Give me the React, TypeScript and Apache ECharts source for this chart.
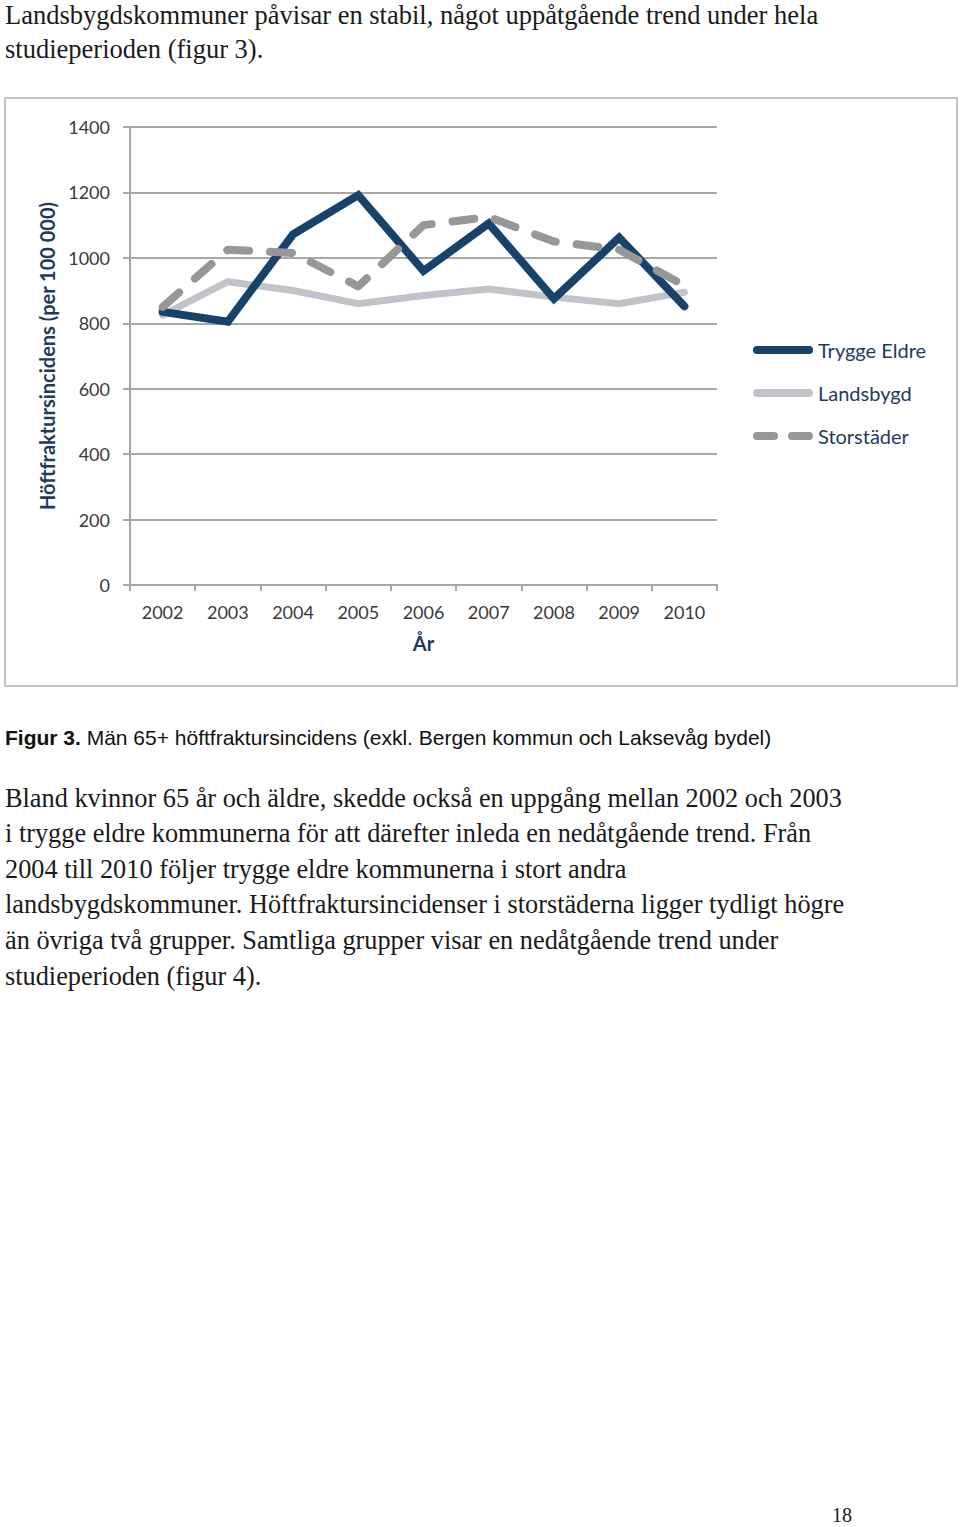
import React, { useEffect, useRef } from "react";
import * as echarts from "echarts";

const years = ["2002", "2003", "2004", "2005", "2006", "2007", "2008", "2009", "2010"];
const tryggeEldre = [835, 805, 1072, 1192, 960, 1105, 875, 1062, 852];
const landsbygd = [825, 927, 900, 860, 885, 905, 880, 860, 895];
const storstader = [850, 1025, 1015, 913, 1100, 1125, 1050, 1025, 915];
const seriesNames = ["Trygge Eldre", "Landsbygd", "Storstäder"];

const introLines = [
  "Landsbygdskommuner påvisar en stabil, något uppåtgående trend under hela",
  "studieperioden (figur 3).",
];
const captionBold = "Figur 3.";
const captionRest = " Män 65+ höftfraktursincidens (exkl. Bergen kommun och Laksevåg bydel)";
const paragraphLines = [
  "Bland kvinnor 65 år och äldre, skedde också en uppgång mellan 2002 och 2003",
  "i trygge eldre kommunerna för att därefter inleda en nedåtgående trend. Från",
  "2004 till 2010 följer trygge eldre kommunerna i stort andra",
  "landsbygdskommuner. Höftfraktursincidenser i storstäderna ligger tydligt högre",
  "än övriga två grupper. Samtliga grupper visar en nedåtgående trend under",
  "studieperioden (figur 4).",
];
const pageNumber = "18";

const SERIF = "'Liberation Serif', 'DejaVu Serif', serif";
const CHART_FONT = "Lato, 'Open Sans', sans-serif";
const BLUE = "#17436b";
const LIGHT = "#c2c3c8";
const DASHGRAY = "#979797";

const SOLID_ICON = "path://M4,0 H56 A4,4 0 0 1 56,8 H4 A4,4 0 0 1 4,0 Z";
const DASH_ICON =
  "path://M4,0 H21 A4,4 0 0 1 21,8 H4 A4,4 0 0 1 4,0 Z M39,0 H56 A4,4 0 0 1 56,8 H39 A4,4 0 0 1 39,0 Z";

export default function App() {
  const ref = useRef<HTMLDivElement>(null);
  useEffect(() => {
    if (!ref.current) return;
    const chart = echarts.init(ref.current, null, { renderer: "svg" });
    const textEls: any[] = [];
    introLines.forEach((t, i) => {
      textEls.push({
        type: "text",
        x: 5,
        y: 15 + i * 34,
        style: { text: t, font: `26.5px ${SERIF}`, fill: "#1a1a1a", verticalAlign: "middle" },
      });
    });
    paragraphLines.forEach((t, i) => {
      textEls.push({
        type: "text",
        x: 5,
        y: 798 + i * 35.6,
        style: { text: t, font: `26.3px ${SERIF}`, fill: "#1a1a1a", verticalAlign: "middle" },
      });
    });
    textEls.push({
      type: "text",
      x: 5,
      y: 737,
      style: {
        text: `{b|${captionBold}}{r|${captionRest}}`,
        verticalAlign: "middle",
        rich: {
          b: { font: `bold 21px 'Liberation Sans', Arial, sans-serif`, fill: "#111" },
          r: { font: `21px 'Liberation Sans', Arial, sans-serif`, fill: "#111" },
        },
      },
    });
    textEls.push({
      type: "text",
      x: 832,
      y: 1515,
      style: { text: pageNumber, font: `20px ${SERIF}`, fill: "#1a1a1a", verticalAlign: "middle" },
    });

    chart.setOption({
      animation: false,
      backgroundColor: "#ffffff",
      graphic: [
        {
          type: "rect",
          shape: { x: 5, y: 98, width: 952, height: 588 },
          style: { fill: "none", stroke: "#c4c4c4", lineWidth: 2 },
          z: -1,
        },
        ...textEls,
      ],
      grid: { left: 130, right: 243, top: 127, bottom: 942, containLabel: false },
      legend: {
        left: 748,
        top: 335,
        orient: "vertical",
        itemWidth: 60,
        itemHeight: 8,
        itemGap: 23,
        data: [
          { name: seriesNames[0], icon: SOLID_ICON },
          { name: seriesNames[1], icon: SOLID_ICON },
          { name: seriesNames[2], icon: DASH_ICON },
        ],
        textStyle: { color: "#1f3b5c", fontSize: 20, fontFamily: CHART_FONT },
      },
      xAxis: {
        type: "category",
        data: years,
        boundaryGap: true,
        name: "År",
        nameLocation: "middle",
        nameGap: 48,
        nameTextStyle: { color: "#1f3b5c", fontSize: 20, fontWeight: "bold", fontFamily: CHART_FONT },
        axisLine: { lineStyle: { color: "#a6a6a6", width: 2 } },
        axisTick: { show: true, length: 6, lineStyle: { color: "#a6a6a6", width: 2 } },
        axisLabel: { color: "#3a3a3a", fontSize: 18, fontFamily: CHART_FONT, margin: 18 },
        splitLine: { show: false },
      },
      yAxis: {
        type: "value",
        min: 0,
        max: 1400,
        interval: 200,
        name: "Höftfraktursincidens (per 100 000)",
        nameLocation: "middle",
        nameGap: 67,
        nameTextStyle: { color: "#1f3b5c", fontSize: 20, fontWeight: "bold", fontFamily: CHART_FONT },
        axisLine: { show: true, lineStyle: { color: "#a6a6a6", width: 2 } },
        axisTick: { show: true, length: 7, lineStyle: { color: "#a6a6a6", width: 2 } },
        axisLabel: {
          color: "#3a3a3a",
          fontSize: 18,
          fontFamily: CHART_FONT,
          margin: 20,
          formatter: (v: number) => String(v),
        },
        splitLine: { show: true, lineStyle: { color: "#a8a8a8", width: 2 } },
      },
      series: [
        {
          name: seriesNames[0],
          type: "line",
          data: tryggeEldre,
          showSymbol: false,
          symbol: "none",
          z: 3,
          lineStyle: { color: BLUE, width: 8, cap: "round", join: "miter" },
          itemStyle: { color: BLUE },
        },
        {
          name: seriesNames[1],
          type: "line",
          data: landsbygd,
          showSymbol: false,
          symbol: "none",
          z: 2,
          lineStyle: { color: LIGHT, width: 7, cap: "round", join: "miter" },
          itemStyle: { color: LIGHT },
        },
        {
          name: seriesNames[2],
          type: "line",
          data: storstader,
          showSymbol: false,
          symbol: "none",
          z: 4,
          lineStyle: { color: DASHGRAY, width: 8, type: [22, 21], cap: "round", join: "round" },
          itemStyle: { color: DASHGRAY },
        },
      ],
    });
    return () => chart.dispose();
  }, []);
  return <div ref={ref} style={{ position: "absolute", left: 0, top: 0, width: 960, height: 1527 }} />;
}
